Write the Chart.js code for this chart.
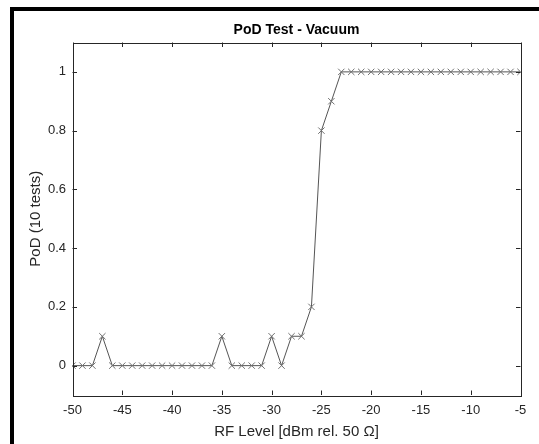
<!DOCTYPE html>
<html>
<head>
<meta charset="utf-8">
<script src="https://cdn.jsdelivr.net/npm/chart.js@4.4.1/dist/chart.umd.min.js"></script>
<style>
  body { margin: 0; background: #fff; }
  #wrap { position: relative; width: 539px; height: 444px; overflow: hidden; }
  #frame { position: absolute; left: 10px; top: 7px; width: 600px; height: 434px;
           border-left: 4px solid #000; border-top: 4px solid #000; border-bottom: 1px solid #d0d0d0; }
  #box { position: absolute; left: 0; top: 0; width: 539px; height: 444px; }
</style>
</head>
<body>
<div id="wrap">
  <div id="frame"></div>
  <div id="box"><canvas id="chart"></canvas></div>
</div>
<script>
// niveaux RF (dBm) et probabilité de détection
var rfLevels = [-50, -49, -48, -47, -46, -45, -44, -43, -42, -41, -40, -39, -38, -37, -36,
  -35, -34, -33, -32, -31, -30, -29, -28, -27, -26, -25, -24, -23, -22, -21, -20,
  -19, -18, -17, -16, -15, -14, -13, -12, -11, -10, -9, -8, -7, -6, -5];
var pod = [0, 0, 0, 0.1, 0, 0, 0, 0, 0, 0, 0, 0, 0, 0, 0,
  0.1, 0, 0, 0, 0, 0.1, 0, 0.1, 0.1, 0.2, 0.8, 0.9, 1, 1, 1, 1,
  1, 1, 1, 1, 1, 1, 1, 1, 1, 1, 1, 1, 1, 1, 1];
var xTicks = [-50, -45, -40, -35, -30, -25, -20, -15, -10, -5];
var yTicks = [0, 0.2, 0.4, 0.6, 0.8, 1];

var points = rfLevels.map(function(x, i) {
  return { x: x, y: pod[i] };
});

var police = 'Liberation Sans, Arial, sans-serif';

// cadre + graduations vers l'intérieur (style matlab)
var boxTicks = {
  id: 'boxTicks',
  afterDraw: function(chart) {
    var ctx = chart.ctx, a = chart.chartArea;
    var sx = chart.scales.x, sy = chart.scales.y;
    var len = 4.5;
    ctx.save();
    ctx.strokeStyle = '#262626';
    ctx.lineWidth = 1;
    ctx.beginPath();
    sx.ticks.forEach(function(t) {
      var px = Math.round(sx.getPixelForValue(t.value)) + 0.5;
      ctx.moveTo(px, a.bottom); ctx.lineTo(px, a.bottom - len);
      ctx.moveTo(px, a.top); ctx.lineTo(px, a.top + len);
    });
    sy.ticks.forEach(function(t) {
      var py = Math.round(sy.getPixelForValue(t.value)) + 0.5;
      ctx.moveTo(a.left, py); ctx.lineTo(a.left + len, py);
      ctx.moveTo(a.right, py); ctx.lineTo(a.right - len, py);
    });
    ctx.stroke();
    ctx.strokeRect(Math.round(a.left) + 0.5, Math.round(a.top) + 0.5,
      Math.round(a.right - a.left), Math.round(a.bottom - a.top));
    ctx.restore();
  }
};

var ctx = document.getElementById('chart').getContext('2d');
var myChart = new Chart(ctx, {
  type: 'scatter',
  data: {
    datasets: [{
      data: points,
      showLine: true,
      borderColor: '#555555',
      borderWidth: 1,
      pointStyle: 'crossRot',
      pointRadius: 4.5,
      pointBorderColor: '#707070',
      pointBorderWidth: 1,
      pointBackgroundColor: 'transparent'
    }]
  },
  options: {
    responsive: true,
    maintainAspectRatio: false,
    animation: false,
    layout: { padding: { left: 0, right: 18.5, top: 0, bottom: 0 } },
    plugins: {
      legend: { display: false },
      tooltip: { enabled: false },
      title: { display: false }
    },
    scales: {
      // axe du haut, sert juste à centrer le titre sur la zone du graphe
      titre: {
        type: 'linear',
        position: 'top',
        min: -50,
        max: -5,
        afterFit: function(scale) { scale.height = 42.5; },
        grid: { display: false, drawTicks: false },
        border: { display: false },
        ticks: { display: false },
        title: {
          display: true,
          text: 'PoD Test - Vacuum',
          color: '#000',
          font: { family: police, size: 14, weight: 'bold' },
          padding: { top: 21.8, bottom: 0 }
        }
      },
      x: {
        type: 'linear',
        min: -50,
        max: -5,
        afterBuildTicks: function(scale) {
          scale.ticks = xTicks.map(function(v) { return { value: v }; });
        },
        afterFit: function(scale) { scale.height = 49; },
        grid: { display: false, drawTicks: false },
        border: { display: false },
        ticks: {
          color: '#262626',
          padding: 8,
          maxRotation: 0,
          font: { family: police, size: 13 }
        },
        title: {
          display: true,
          text: 'RF Level [dBm rel. 50 Ω]',
          color: '#262626',
          font: { family: police, size: 15 },
          padding: { top: 0, bottom: 3 }
        }
      },
      y: {
        type: 'linear',
        min: -0.1,
        max: 1.1,
        afterBuildTicks: function(scale) {
          scale.ticks = yTicks.map(function(v) { return { value: v }; });
        },
        afterFit: function(scale) { scale.width = 72.5; },
        grid: { display: false, drawTicks: false },
        border: { display: false },
        ticks: {
          color: '#262626',
          padding: 6.5,
          font: { family: police, size: 13 },
          callback: function(v) { return String(Math.round(v * 10) / 10); }
        },
        title: {
          display: true,
          text: 'PoD (10 tests)',
          color: '#262626',
          font: { family: police, size: 15 },
          padding: { top: 27, bottom: 0 }
        }
      }
    }
  },
  plugins: [boxTicks]
});
</script>
</body>
</html>
